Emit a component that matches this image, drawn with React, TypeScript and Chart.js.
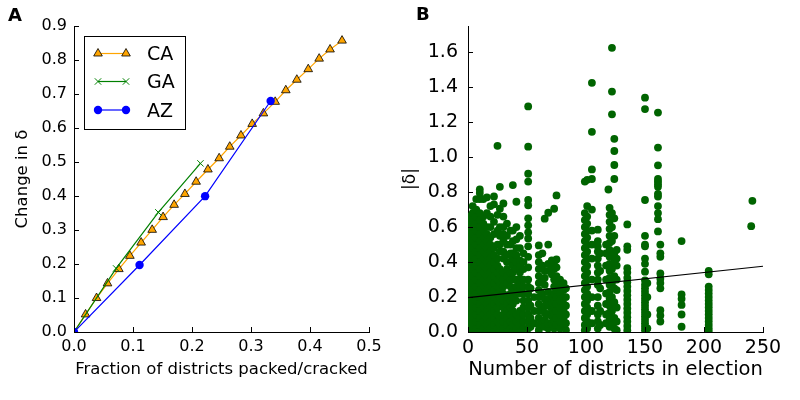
import React, { useEffect, useRef } from "react";
import { Chart, registerables } from "chart.js";
Chart.register(...registerables);

const FONT = "'DejaVu Sans', sans-serif";

// ---------- Panel A data ----------
const caX = [0, 0.0196, 0.0382, 0.0568, 0.076, 0.0947, 0.1138, 0.1325, 0.151, 0.1697, 0.188, 0.207, 0.227, 0.246, 0.264, 0.283, 0.302, 0.321, 0.341, 0.359, 0.3777, 0.397, 0.4155, 0.434, 0.4543];
const caY = [0, 0.0517, 0.0999, 0.143, 0.185, 0.224, 0.263, 0.3005, 0.338, 0.374, 0.406, 0.442, 0.478, 0.511, 0.545, 0.578, 0.612, 0.643, 0.677, 0.711, 0.742, 0.773, 0.804, 0.831, 0.857];
const gaX = [0, 0.0714, 0.1429, 0.2143];
const gaY = [0, 0.187, 0.352, 0.496];
const azX = [0, 0.1111, 0.2222, 0.3333];
const azY = [0, 0.197, 0.3995, 0.6795];
const aXTicks = [0, 0.1, 0.2, 0.3, 0.4, 0.5];
const aYTicks = [0, 0.1, 0.2, 0.3, 0.4, 0.5, 0.6, 0.7, 0.8, 0.9];
const legendNames = ["CA", "GA", "AZ"];

// ---------- Panel B data ----------
const districtCounts = [1, 4, 7, 10, 13, 16, 19, 22, 25, 27, 30, 33, 36, 38, 41, 44, 47, 51, 53, 56,
  60, 63, 65, 68, 71, 73, 75, 78, 81, 83,
  99, 101, 105, 110, 112, 117, 119, 120, 122, 124, 126, 135, 150, 152, 161, 163, 181, 204, 240, 241];
const deltaValues: number[][] = [
  [0.02, 0.06, 0.1, 0.14, 0.18, 0.22, 0.26, 0.3, 0.34, 0.38, 0.42, 0.46, 0.5, 0.54, 0.58, 0.62, 0.66],
  [0, 0.04, 0.08, 0.12, 0.16, 0.2, 0.24, 0.28, 0.32, 0.36, 0.4, 0.44, 0.48, 0.52, 0.56, 0.6, 0.64, 0.68, 0.72],
  [0.02, 0.06, 0.1, 0.14, 0.18, 0.22, 0.26, 0.3, 0.34, 0.38, 0.42, 0.46, 0.5, 0.54, 0.58, 0.62, 0.66, 0.7, 0.76],
  [0, 0.04, 0.08, 0.12, 0.16, 0.2, 0.24, 0.28, 0.32, 0.36, 0.4, 0.44, 0.48, 0.52, 0.56, 0.6, 0.64, 0.68, 0.76, 0.795, 0.815],
  [0.02, 0.06, 0.1, 0.14, 0.18, 0.22, 0.26, 0.3, 0.34, 0.38, 0.42, 0.46, 0.5, 0.54, 0.58, 0.62, 0.66, 0.76],
  [0, 0.04, 0.08, 0.12, 0.16, 0.2, 0.24, 0.28, 0.32, 0.36, 0.4, 0.44, 0.48, 0.52, 0.56, 0.6, 0.68, 0.77],
  [0.02, 0.06, 0.1, 0.14, 0.18, 0.22, 0.26, 0.3, 0.34, 0.38, 0.42, 0.46, 0.5, 0.54, 0.6, 0.66, 0.72],
  [0, 0.04, 0.08, 0.12, 0.16, 0.2, 0.24, 0.28, 0.32, 0.36, 0.4, 0.44, 0.48, 0.56, 0.63, 0.73, 0.775],
  [0.02, 0.06, 0.1, 0.14, 0.18, 0.22, 0.26, 0.3, 0.34, 0.38, 0.42, 0.5, 0.58, 0.67, 1.065],
  [0, 0.04, 0.08, 0.16, 0.2, 0.24, 0.28, 0.32, 0.36, 0.46, 0.5, 0.55, 0.6, 0.705, 0.83],
  [0.02, 0.06, 0.1, 0.14, 0.18, 0.22, 0.26, 0.3, 0.34, 0.42, 0.46, 0.52, 0.56, 0.6, 0.66, 0.735],
  [0, 0.04, 0.08, 0.12, 0.16, 0.2, 0.28, 0.32, 0.36, 0.4, 0.44, 0.5, 0.55, 0.62],
  [0.02, 0.06, 0.1, 0.14, 0.18, 0.22, 0.26, 0.3, 0.34, 0.4, 0.45, 0.5, 0.58],
  [0, 0.04, 0.08, 0.12, 0.16, 0.2, 0.24, 0.3, 0.34, 0.38, 0.42, 0.45, 0.52, 0.58, 0.84],
  [0.02, 0.06, 0.1, 0.18, 0.22, 0.26, 0.3, 0.36, 0.4, 0.44, 0.48, 0.53, 0.6, 0.745],
  [0, 0.04, 0.08, 0.12, 0.22, 0.26, 0.3, 0.34, 0.38, 0.41, 0.48, 0.55],
  [0.02, 0.06, 0.1, 0.14, 0.18, 0.22, 0.26, 0.3, 0.36, 0.4, 0.45],
  [0.02, 0.06, 0.1, 0.14, 0.18, 0.22, 0.26, 0.3, 0.37, 0.43, 0.49, 0.535, 0.57, 0.61, 0.65, 0.725, 0.755, 0.86, 0.905, 1.06, 1.29],
  [0.03, 0.08, 0.15, 0.25],
  [0.05, 0.12, 0.2],
  [0.01, 0.04, 0.08, 0.12, 0.16, 0.2, 0.24, 0.28, 0.32, 0.36, 0.4, 0.44, 0.495],
  [0.06, 0.14, 0.22, 0.3, 0.38, 0.45],
  [0.03, 0.07, 0.11, 0.15, 0.19, 0.27, 0.31, 0.35, 0.648],
  [0.02, 0.05, 0.1, 0.15, 0.19, 0.23, 0.35, 0.39, 0.5, 0.682],
  [0.05, 0.09, 0.13, 0.17, 0.21, 0.33, 0.37, 0.41],
  [0.02, 0.06, 0.1, 0.14, 0.18, 0.22, 0.26, 0.3, 0.36, 0.4, 0.705],
  [0.04, 0.08, 0.12, 0.16, 0.2, 0.24, 0.28, 0.32, 0.37, 0.415, 0.781],
  [0.02, 0.06, 0.1, 0.14, 0.18, 0.22, 0.26, 0.3],
  [0.04, 0.08, 0.12, 0.16, 0.2, 0.24, 0.28],
  [0.01, 0.05, 0.1, 0.15, 0.2, 0.25],
  [0.01, 0.04, 0.08, 0.12, 0.16, 0.2, 0.24, 0.28, 0.32, 0.36, 0.4, 0.44, 0.48, 0.52, 0.56, 0.6, 0.64, 0.68, 0.86],
  [0.02, 0.06, 0.1, 0.14, 0.18, 0.22, 0.26, 0.3, 0.34, 0.38, 0.42, 0.46, 0.5, 0.54, 0.58, 0.62, 0.66, 0.72, 0.87],
  [0.05, 0.12, 0.2, 0.3, 0.42, 0.5, 0.58, 0.7, 0.875, 0.93, 1.145, 1.425],
  [0.02, 0.06, 0.1, 0.15, 0.2, 0.27, 0.3, 0.34, 0.38, 0.42, 0.46, 0.49, 0.52, 0.585],
  [0.04, 0.12, 0.25, 0.35, 0.45],
  [0.05, 0.1, 0.16, 0.22, 0.3, 0.38, 0.45, 0.5],
  [0.815],
  [0.03, 0.07, 0.11, 0.15, 0.19, 0.23, 0.27, 0.31, 0.35, 0.39, 0.43, 0.47, 0.51, 0.55, 0.59, 0.63, 0.67, 0.71],
  [0.04, 0.12, 0.2, 0.28, 0.36, 0.44, 0.52, 0.6, 0.68, 1.245, 1.375, 1.625],
  [0.02, 0.08, 0.17, 0.25, 0.32, 0.4, 0.45, 0.55, 0.65, 0.875, 0.955, 1.035, 1.105],
  [0.01, 0.06, 0.14, 0.24, 0.3, 0.38, 0.42, 0.47],
  [0.01, 0.035, 0.06, 0.085, 0.11, 0.135, 0.16, 0.185, 0.21, 0.235, 0.26, 0.285, 0.31, 0.34, 0.365, 0.47, 0.49, 0.615],
  [0.01, 0.03, 0.05, 0.07, 0.09, 0.11, 0.13, 0.15, 0.17, 0.19, 0.21, 0.23, 0.25, 0.27, 0.295, 0.345, 0.39, 0.42, 0.49, 0.5, 0.55, 0.755, 1.275, 1.34],
  [0.02, 0.1, 0.2, 0.28],
  [0.575, 0.645, 0.68, 0.72, 0.775, 0.79, 0.83, 0.845, 0.86, 0.875, 0.953, 1.055, 1.255],
  [0.06, 0.095, 0.125, 0.25, 0.28, 0.305, 0.335, 0.43, 0.45, 0.5],
  [0.03, 0.1, 0.155, 0.19, 0.215, 0.52],
  [0.005, 0.02, 0.04, 0.06, 0.08, 0.1, 0.12, 0.14, 0.16, 0.18, 0.2, 0.22, 0.24, 0.26, 0.33, 0.35],
  [0.605],
  [0.75],
];
const fitX = [0, 250];
const fitY = [0.197, 0.376];
const bXTicks = [0, 50, 100, 150, 200, 250];
const bYTicks = [0, 0.2, 0.4, 0.6, 0.8, 1.0, 1.2, 1.4, 1.6];

const inwardTicks = {
  id: "inwardTicks",
  afterDraw(chart: any) {
    const { ctx, chartArea, scales } = chart;
    ctx.save();
    ctx.strokeStyle = "#000";
    ctx.lineWidth = 1;
    ctx.beginPath();
    scales.x.ticks.forEach((t: any) => {
      const px = Math.round(scales.x.getPixelForValue(t.value)) + 0.5;
      ctx.moveTo(px, chartArea.bottom);
      ctx.lineTo(px, chartArea.bottom - 5);
    });
    scales.y.ticks.forEach((t: any) => {
      const py = Math.round(scales.y.getPixelForValue(t.value)) + 0.5;
      ctx.moveTo(chartArea.left, py);
      ctx.lineTo(chartArea.left + 5, py);
    });
    ctx.stroke();
    ctx.restore();
  },
};

function panelLabel(text: string, x: number, y: number) {
  return {
    id: "panelLabel" + text,
    afterDraw(chart: any) {
      const ctx = chart.ctx;
      ctx.save();
      ctx.fillStyle = "#000";
      ctx.font = `bold 18px ${FONT}`;
      ctx.textBaseline = "alphabetic";
      ctx.textAlign = "left";
      ctx.fillText(text, x, y);
      ctx.restore();
    },
  };
}

const legendA = {
  id: "legendA",
  afterDraw(chart: any) {
    const ctx = chart.ctx;
    ctx.save();
    ctx.fillStyle = "#fff";
    ctx.fillRect(84.5, 36.5, 101, 93);
    ctx.strokeStyle = "#000";
    ctx.lineWidth = 1;
    ctx.strokeRect(84.5, 36.5, 101, 93);
    const rows = [53.5, 81.5, 110];
    const colors = ["#FFA500", "#008000", "#0000FF"];
    rows.forEach((ry, i) => {
      const x0 = 98, x1 = 126;
      ctx.strokeStyle = colors[i];
      ctx.lineWidth = 1.2;
      ctx.beginPath();
      ctx.moveTo(x0, ry);
      ctx.lineTo(x1, ry);
      ctx.stroke();
      [x0, x1].forEach((mx) => {
        if (i === 0) {
          const r = 5;
          ctx.beginPath();
          ctx.moveTo(mx, ry - r);
          ctx.lineTo(mx + r * 0.866, ry + r * 0.5);
          ctx.lineTo(mx - r * 0.866, ry + r * 0.5);
          ctx.closePath();
          ctx.fillStyle = "#FFA500";
          ctx.fill();
          ctx.strokeStyle = "#000";
          ctx.lineWidth = 0.8;
          ctx.stroke();
        } else if (i === 1) {
          const r = 3.2;
          ctx.beginPath();
          ctx.moveTo(mx - r, ry - r);
          ctx.lineTo(mx + r, ry + r);
          ctx.moveTo(mx - r, ry + r);
          ctx.lineTo(mx + r, ry - r);
          ctx.strokeStyle = "#008000";
          ctx.lineWidth = 1;
          ctx.stroke();
        } else {
          ctx.beginPath();
          ctx.arc(mx, ry, 4.2, 0, Math.PI * 2);
          ctx.fillStyle = "#0000FF";
          ctx.fill();
        }
      });
      ctx.fillStyle = "#000";
      ctx.font = `19px ${FONT}`;
      ctx.textBaseline = "alphabetic";
      ctx.fillText(legendNames[i], 147, ry + 6.8);
    });
    ctx.restore();
  },
};

function axisCommon(ticksArr: number[], size: number, pad: number, fmt: (v: number) => string) {
  return {
    type: "linear" as const,
    afterBuildTicks: (s: any) => {
      s.ticks = ticksArr.map((v) => ({ value: v }));
    },
    grid: { display: false, drawTicks: false },
    border: { display: true, color: "#000", width: 1 },
    ticks: {
      padding: pad,
      color: "#000",
      autoSkip: false,
      maxRotation: 0,
      font: { family: FONT, size },
      callback: (v: any) => fmt(Number(v)),
    },
  };
}

export default function App() {
  const refA = useRef<HTMLCanvasElement>(null);
  const refB = useRef<HTMLCanvasElement>(null);

  useEffect(() => {
    const toPts = (xs: number[], ys: number[]) => xs.map((x, i) => ({ x, y: ys[i] }));

    const chartA = new Chart(refA.current!, {
      type: "scatter",
      data: {
        datasets: [
          {
            label: "CA",
            data: toPts(caX, caY),
            showLine: true,
            borderColor: "#FFA500",
            borderWidth: 1.2,
            pointStyle: "triangle",
            pointRadius: 5,
            pointBackgroundColor: "#FFA500",
            pointBorderColor: "#000",
            pointBorderWidth: 0.8,
            order: 3,
          },
          {
            label: "GA",
            data: toPts(gaX, gaY),
            showLine: true,
            borderColor: "#008000",
            borderWidth: 1.2,
            pointStyle: "crossRot",
            pointRadius: 4.5,
            pointBorderColor: "#008000",
            pointBorderWidth: 1,
            order: 2,
          },
          {
            label: "AZ",
            data: toPts(azX, azY),
            showLine: true,
            borderColor: "#0000FF",
            borderWidth: 1.2,
            pointStyle: "circle",
            pointRadius: 4.2,
            pointBackgroundColor: "#0000FF",
            pointBorderColor: "#0000FF",
            pointBorderWidth: 0,
            order: 1,
          },
        ],
      },
      options: {
        responsive: false,
        animation: false,
        layout: { padding: { left: 0, top: 26, right: 31, bottom: 0 } },
        plugins: { legend: { display: false }, tooltip: { enabled: false } },
        scales: {
          x: {
            ...axisCommon(aXTicks, 16, 5, (v) => v.toFixed(1)),
            min: 0,
            max: 0.5,
            afterFit: (s: any) => {
              s.height = 68;
            },
            title: {
              display: true,
              text: "Fraction of districts packed/cracked",
              color: "#000",
              font: { family: FONT, size: 16.5 },
              padding: { top: 0, bottom: 20 },
            },
          },
          y: {
            ...axisCommon(aYTicks, 16, 7, (v) => v.toFixed(1)),
            min: 0,
            max: 0.9,
            afterFit: (s: any) => {
              s.width = 74;
            },
            title: {
              display: true,
              text: "Change in δ",
              color: "#000",
              font: { family: FONT, size: 16.5 },
              padding: { top: 13, bottom: 0 },
            },
          },
        },
      },
      plugins: [inwardTicks, legendA, panelLabel("A", 8, 21)],
    } as any);

    const scatterPts: { x: number; y: number }[] = [];
    districtCounts.forEach((n, i) => {
      deltaValues[i].forEach((d) => scatterPts.push({ x: n, y: d }));
    });

    const chartB = new Chart(refB.current!, {
      type: "scatter",
      data: {
        datasets: [
          {
            label: "fit",
            data: toPts(fitX, fitY),
            showLine: true,
            borderColor: "#000",
            borderWidth: 1.2,
            pointRadius: 0,
            order: 0,
          },
          {
            label: "elections",
            data: scatterPts,
            pointRadius: 3.9,
            pointBackgroundColor: "#006400",
            pointBorderColor: "#006400",
            pointBorderWidth: 0,
            order: 1,
          },
        ],
      },
      options: {
        responsive: false,
        animation: false,
        layout: { padding: { left: 0, top: 26, right: 37, bottom: 0 } },
        plugins: { legend: { display: false }, tooltip: { enabled: false } },
        scales: {
          x: {
            ...axisCommon(bXTicks, 19, 5, (v) => String(Math.round(v))),
            min: 0,
            max: 250,
            afterFit: (s: any) => {
              s.height = 68;
            },
            title: {
              display: true,
              text: "Number of districts in election",
              color: "#000",
              font: { family: FONT, size: 19.5 },
              padding: { top: 0, bottom: 18 },
            },
          },
          y: {
            ...axisCommon(bYTicks, 19, 10, (v) => v.toFixed(1)),
            min: 0,
            max: 1.75,
            afterFit: (s: any) => {
              s.width = 68;
            },
            title: {
              display: true,
              text: "|δ̃|",
              color: "#000",
              font: { family: FONT, size: 17 },
              padding: { top: 0, bottom: 0 },
            },
          },
        },
      },
      plugins: [inwardTicks, panelLabel("B", 16, 20)],
    } as any);

    return () => {
      chartA.destroy();
      chartB.destroy();
    };
  }, []);

  return (
    <div style={{ position: "absolute", left: 0, top: 0, width: 800, height: 400, background: "#fff" }}>
      <canvas ref={refA} width={400} height={400} style={{ position: "absolute", left: 0, top: 0 }} />
      <canvas ref={refB} width={400} height={400} style={{ position: "absolute", left: 400, top: 0 }} />
    </div>
  );
}
